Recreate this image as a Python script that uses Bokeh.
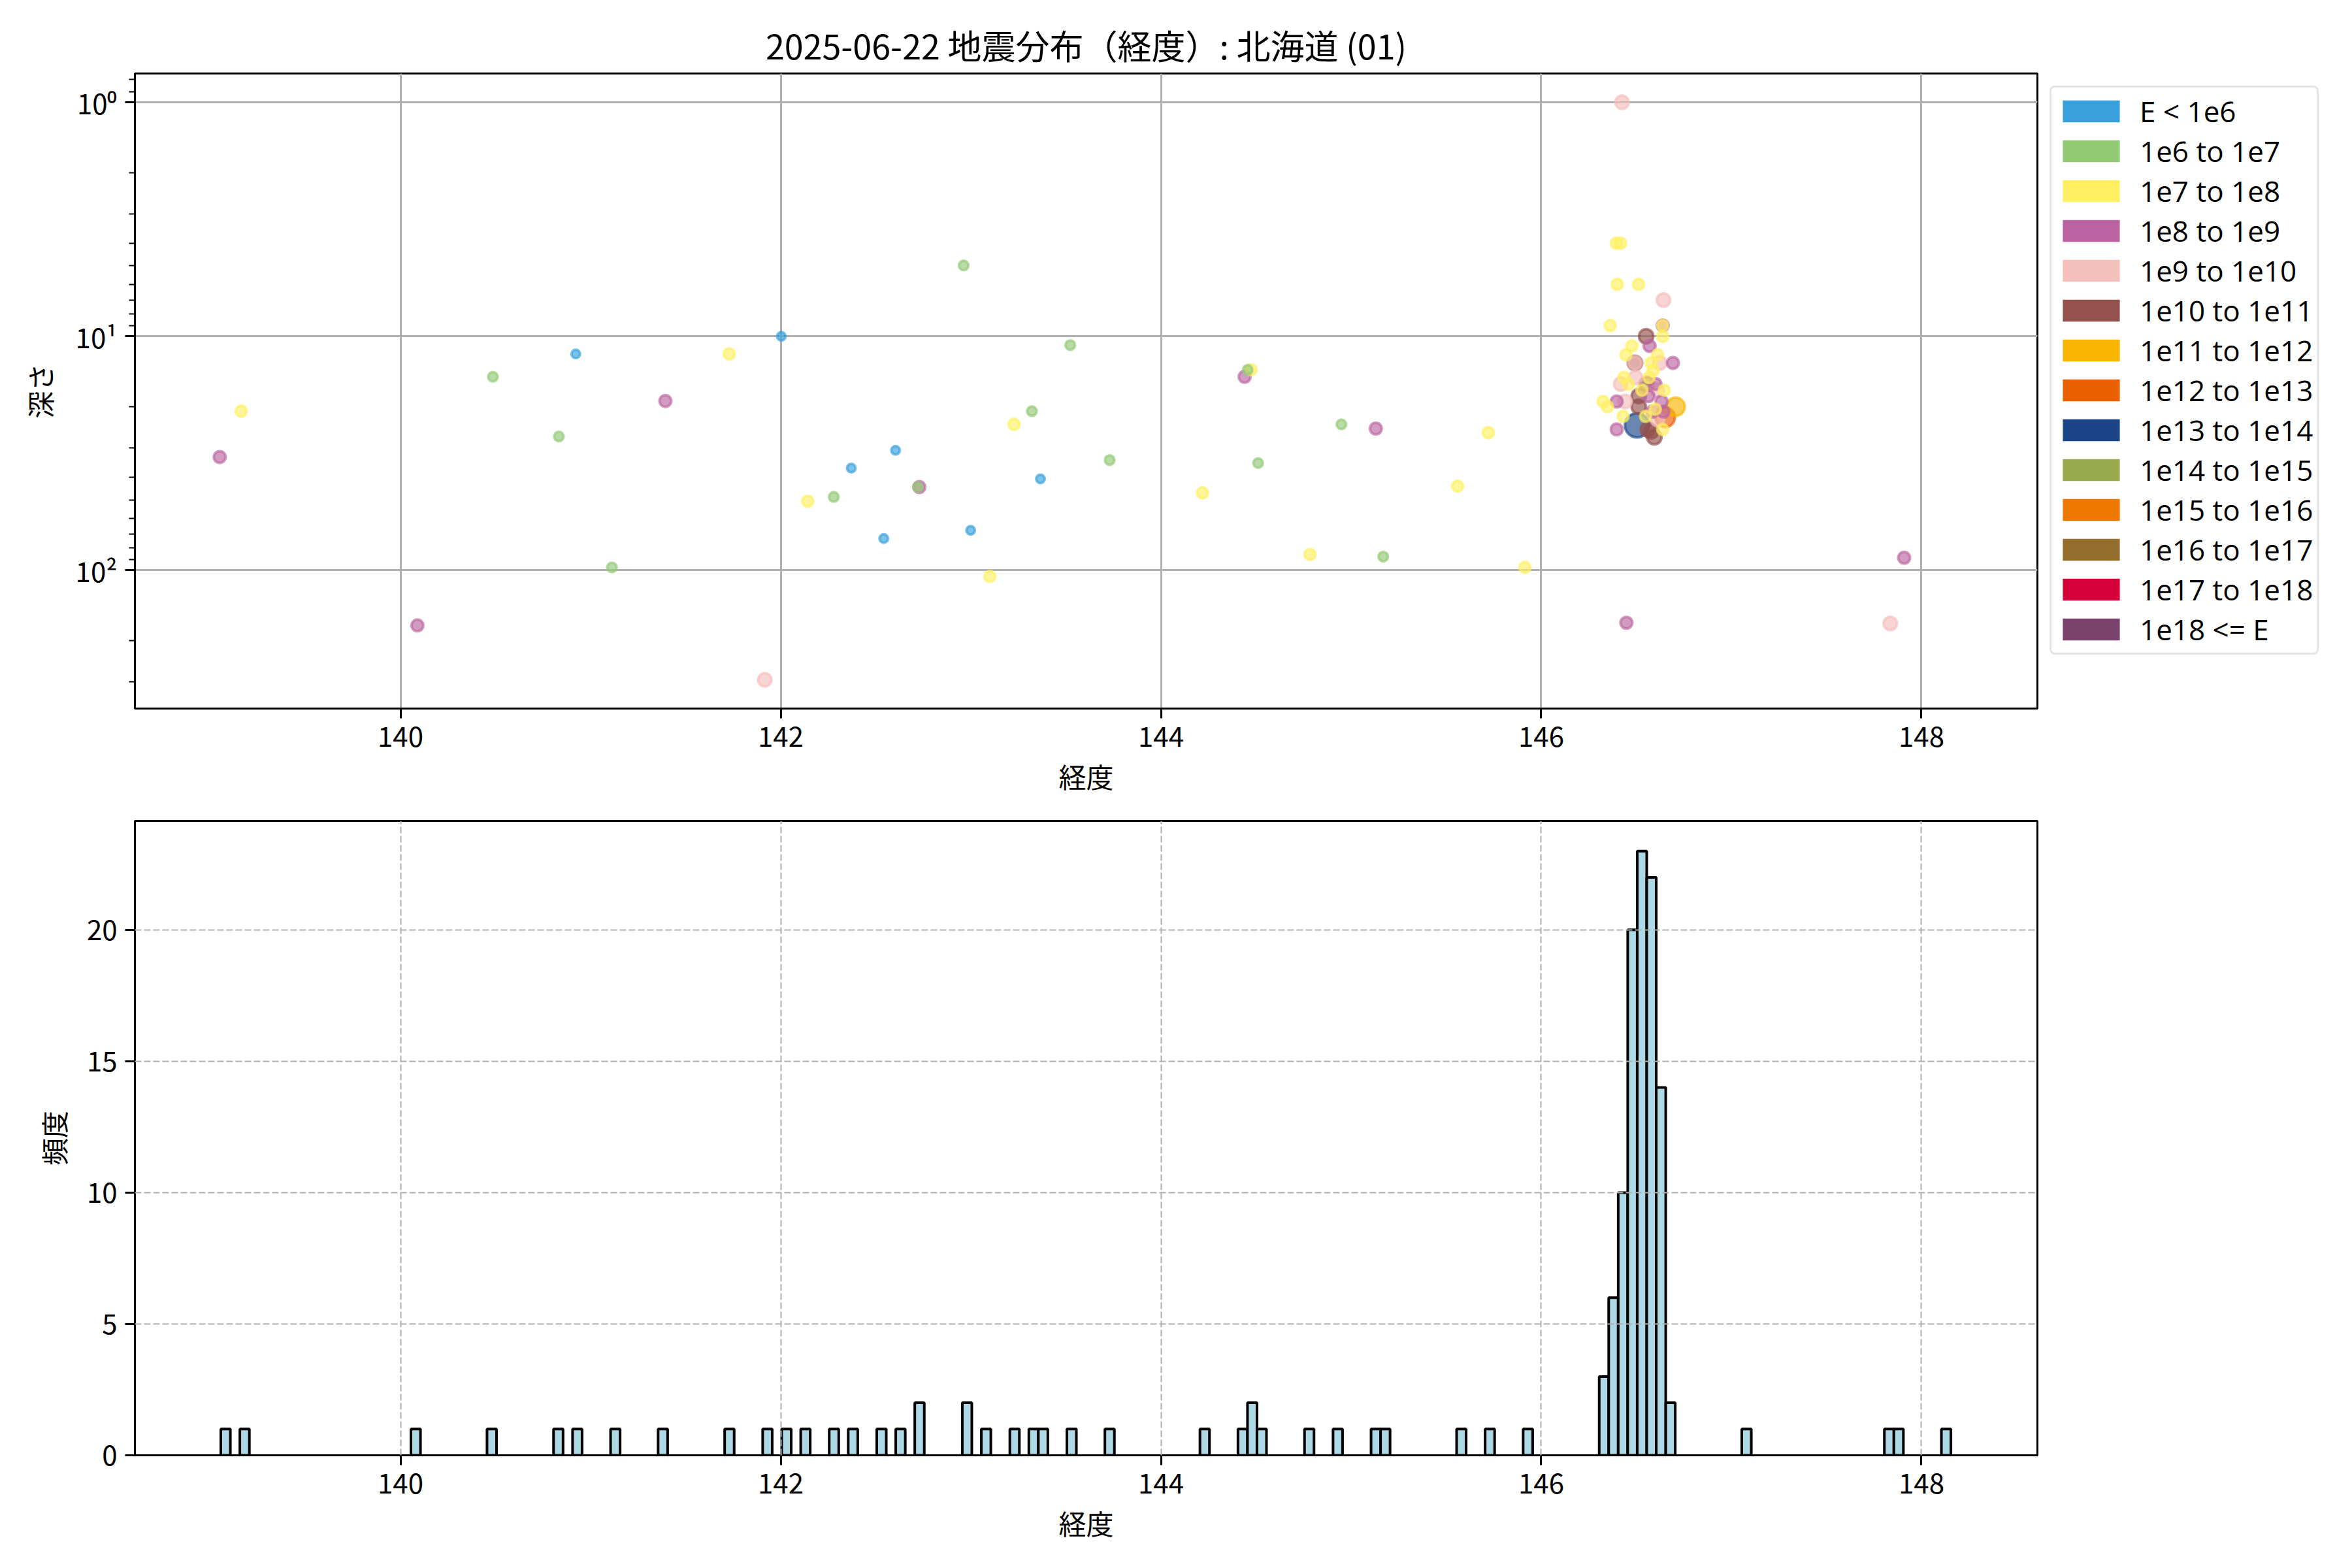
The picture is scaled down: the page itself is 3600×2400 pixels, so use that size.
import numpy as np
from bokeh.plotting import figure
from bokeh.models import (ColumnDataSource, Range1d, FixedTicker,
                          CustomJSTickFormatter, Legend, LegendItem)
from bokeh.layouts import column
from bokeh.embed import file_html
from bokeh.resources import INLINE

# ---------------- text ----------------
TITLE = "2025-06-22 地震分布（経度）: 北海道 (01)"
X_LABEL = "経度"
Y_LABEL_DEPTH = "深さ"
Y_LABEL_COUNT = "頻度"

# ---------------- energy classes ----------------
energy_labels = ["E < 1e6", "1e6 to 1e7", "1e7 to 1e8", "1e8 to 1e9",
                 "1e9 to 1e10", "1e10 to 1e11", "1e11 to 1e12", "1e12 to 1e13",
                 "1e13 to 1e14", "1e14 to 1e15", "1e15 to 1e16", "1e16 to 1e17",
                 "1e17 to 1e18", "1e18 <= E"]
energy_colors = ["#38A1DB", "#93CA76", "#FFF062", "#BB64A1", "#F5BFBC",
                 "#93524D", "#F7B500", "#EB6101", "#1A4589", "#9AAB4E",
                 "#EE7800", "#956D2C", "#D7003A", "#7C426E"]
marker_sizes = [13, 14.5, 17, 18, 20.5, 22, 28, 30, 37, 40, 43, 46, 49, 52]

# ---------------- events (longitude, depth km, energy class) ----------------
lon = [139.049, 139.162, 140.089, 140.486, 140.833, 140.922, 141.112, 141.393,
       141.729, 141.916, 142.003, 142.142, 142.279, 142.371, 142.542, 142.604,
       142.722, 142.729, 142.962, 142.999, 143.100, 143.227, 143.321, 143.366,
       143.523, 143.730, 144.218, 144.440, 144.456, 144.474, 144.511, 144.784,
       144.949, 145.130, 145.169, 145.560, 145.722, 145.914, 146.425, 146.448,
       147.836, 147.909,
       # cluster off eastern Hokkaido
       146.395, 146.418, 146.400, 146.512, 146.643, 146.363, 146.639, 146.639,
       146.552, 146.639, 146.570, 146.477, 146.446, 146.612, 146.493, 146.493,
       146.693, 146.624, 146.578, 146.589, 146.567, 146.435, 146.496, 146.418,
       146.458, 146.555, 146.601, 146.647, 146.612, 146.513, 146.564, 146.397,
       146.441, 146.326, 146.349, 146.633, 146.513, 146.707, 146.584, 146.643,
       146.431, 146.549, 146.652, 146.612, 146.504, 146.397, 146.561, 146.578,
       146.595, 146.639, 146.530, 146.600]
depth = [32.8, 20.9, 172.0, 14.9, 26.8, 11.9, 97.2, 18.9,
         11.9, 294.0, 10.0, 50.7, 48.6, 36.6, 73.2, 30.7,
         44.1, 44.1, 4.98, 67.5, 106.3, 23.8, 20.9, 40.7,
         10.9, 33.8, 46.7, 14.9, 13.9, 13.9, 34.8, 85.6,
         23.8, 24.8, 87.4, 43.7, 25.8, 97.2, 1.0, 167.6,
         168.8, 88.4,
         4.0, 4.0, 6.0, 6.0, 7.0, 9.0, 9.0, 9.0,
         10.0, 10.0, 11.0, 11.0, 12.0, 12.0, 13.0, 13.0,
         13.0, 13.0, 13.0, 14.0, 15.0, 15.0, 15.0, 16.0,
         16.0, 16.0, 16.0, 17.0, 17.0, 18.0, 18.0, 19.0,
         19.0, 19.0, 20.0, 19.0, 20.0, 20.0, 21.0, 21.0,
         22.0, 22.0, 22.2, 22.7, 24.0, 25.0, 25.0, 25.5,
         27.0, 25.0, 17.0, 20.5]
energy_class = [3, 2, 3, 1, 1, 0, 1, 3,
                2, 4, 0, 2, 1, 0, 0, 0,
                1, 3, 1, 0, 2, 2, 1, 0,
                1, 1, 2, 3, 1, 2, 1, 2,
                1, 3, 1, 2, 2, 2, 4, 3,
                4, 3,
                2, 2, 2, 2, 4, 2, 3, 2,
                5, 2, 3, 2, 2, 2, 5, 4,
                3, 4, 2, 2, 2, 2, 4, 4,
                2, 5, 3, 2, 4, 5, 3, 3,
                4, 2, 2, 3, 5, 6, 3, 3,
                2, 2, 7, 4, 8, 3, 5, 5,
                5, 2, 2, 2]

# ---------------- histogram (0.05 degree bins, non-empty bins only) ----------------
hist_bin_width = 0.05
hist_bin_left = [139.055, 139.155, 140.055, 140.455, 140.805, 140.905, 141.105,
                 141.355, 141.705, 141.905, 142.005, 142.105, 142.255, 142.355,
                 142.505, 142.605, 142.705, 142.955, 143.055, 143.205, 143.305,
                 143.355, 143.505, 143.705, 144.205, 144.405, 144.455, 144.505,
                 144.755, 144.905, 145.105, 145.155, 145.555, 145.705, 145.905,
                 146.305, 146.355, 146.405, 146.455, 146.505, 146.555, 146.605,
                 146.655, 147.055, 147.805, 147.855, 148.105]
hist_count = [1, 1, 1, 1, 1, 1, 1,
              1, 1, 1, 1, 1, 1, 1,
              1, 1, 2, 2, 1, 1, 1,
              1, 1, 1, 1, 1, 2, 1,
              1, 1, 1, 1, 1, 1, 1,
              3, 6, 10, 20, 23, 22, 14,
              2, 1, 1, 1, 1]

x_ticks = [140, 142, 144, 146, 148]
depth_ticks = [1, 10, 100]
depth_minor_ticks = [0.8, 0.9, 2, 3, 4, 5, 6, 7, 8, 9,
                     20, 30, 40, 50, 60, 70, 80, 90, 200, 300]
count_ticks = [0, 5, 10, 15, 20]

# ---------------- style ----------------
FONT = "Noto Sans CJK JP"
LEGEND_FONT = "Open Sans"
TICK_FS = "42px"
LABEL_FS = "42px"
GRID_COLOR = "#b0b0b0"
X_RANGE = (138.603, 148.61)


def style_axes(p):
    p.background_fill_color = "white"
    p.border_fill_color = "white"
    p.outline_line_color = "black"
    p.outline_line_width = 3
    p.outline_line_alpha = 1.0
    for ax in p.axis:
        ax.axis_line_color = "black"
        ax.axis_line_width = 3
        ax.major_tick_line_color = "black"
        ax.major_tick_line_width = 3
        ax.major_tick_out = 15
        ax.major_tick_in = 0
        ax.minor_tick_line_color = None
        ax.major_label_text_font = FONT
        ax.major_label_text_font_size = TICK_FS
        ax.major_label_text_color = "black"
        ax.major_label_standoff = 12
        ax.axis_label_text_font = FONT
        ax.axis_label_text_font_size = LABEL_FS
        ax.axis_label_text_font_style = "normal"
        ax.axis_label_text_color = "black"


# ================= top: longitude vs depth =================
p1 = figure(frame_width=2912, frame_height=972,
            min_border_left=206, min_border_right=474,
            min_border_top=112, min_border_bottom=141,
            x_range=Range1d(*X_RANGE), y_range=Range1d(390, 0.753),
            y_axis_type="log", output_backend="svg", toolbar_location=None,
            title=TITLE)
p1.title.text_font = FONT
p1.title.text_font_size = "52px"
p1.title.text_font_style = "normal"
p1.title.text_color = "black"
p1.title.align = "center"
p1.title.standoff = 14
style_axes(p1)

p1.xaxis.ticker = FixedTicker(ticks=x_ticks)
p1.yaxis.ticker = FixedTicker(ticks=depth_ticks, minor_ticks=depth_minor_ticks)
p1.yaxis.formatter = CustomJSTickFormatter(code="""
const sup = {'0':'\u2070','1':'\u00b9','2':'\u00b2','3':'\u00b3','4':'\u2074','-':'\u207b'};
const e = Math.round(Math.log10(tick));
return '10' + String(e).split('').map(c => sup[c]).join('');
""")
p1.yaxis.minor_tick_line_color = "black"
p1.yaxis.minor_tick_line_width = 2
p1.yaxis.minor_tick_out = 9
p1.yaxis.minor_tick_in = 0
p1.xaxis.axis_label = X_LABEL
p1.yaxis.axis_label = Y_LABEL_DEPTH
p1.xaxis.axis_label_standoff = 11
p1.yaxis.axis_label_standoff = 22
p1.grid.grid_line_color = GRID_COLOR
p1.grid.grid_line_width = 3

# legend swatches (renderers with a single empty row so only the key is drawn)
items = []
for lab, col in zip(energy_labels, energy_colors):
    r = p1.quad(left=[np.nan], right=[np.nan], top=[np.nan], bottom=[np.nan],
                fill_color=col, line_color=None)
    items.append(LegendItem(label=lab, renderers=[r]))

order = sorted(range(len(lon)), key=lambda i: -energy_class[i])
src = ColumnDataSource(dict(
    lon=[lon[i] for i in order],
    depth=[depth[i] for i in order],
    color=[energy_colors[energy_class[i]] for i in order],
    size=[marker_sizes[energy_class[i]] for i in order],
))
p1.scatter("lon", "depth", size="size", source=src,
           fill_color="color", line_color="color",
           fill_alpha=0.65, line_alpha=0.65, line_width=4)

legend = Legend(items=items, location="top_left")
legend.margin = 19
legend.padding = 6
legend.spacing = 1
legend.glyph_width = 109
legend.glyph_height = 42
legend.label_height = 42
legend.label_standoff = 20
legend.label_text_font = LEGEND_FONT
legend.label_text_font_size = "44px"
legend.label_text_color = "black"
legend.border_line_color = "#cccccc"
legend.border_line_width = 3
legend.background_fill_color = "white"
legend.background_fill_alpha = 0.8
if "border_radius" in Legend.properties():
    legend.border_radius = 8
p1.add_layout(legend, "right")

# ================= bottom: histogram =================
p2 = figure(frame_width=2912, frame_height=971,
            min_border_left=206, min_border_right=474,
            min_border_top=31, min_border_bottom=165,
            x_range=Range1d(*X_RANGE), y_range=Range1d(0, 24.15),
            output_backend="svg", toolbar_location=None)
style_axes(p2)
p2.xaxis.ticker = FixedTicker(ticks=x_ticks)
p2.yaxis.ticker = FixedTicker(ticks=count_ticks)
p2.xaxis.axis_label = X_LABEL
p2.yaxis.axis_label = Y_LABEL_COUNT
p2.xaxis.axis_label_standoff = 11
p2.yaxis.axis_label_standoff = 18

left = np.array(hist_bin_left)
p2.quad(left=left, right=left + hist_bin_width, bottom=0, top=hist_count,
        fill_color="#add8e6", line_color="black", line_width=4)
p2.grid.grid_line_color = GRID_COLOR
p2.grid.grid_line_width = 2
p2.grid.grid_line_dash = "10 4"
p2.grid.level = "annotation"

layout = column(p1, p2, spacing=0)
open("out.html", "w", encoding="utf-8").write(file_html(layout, INLINE))
